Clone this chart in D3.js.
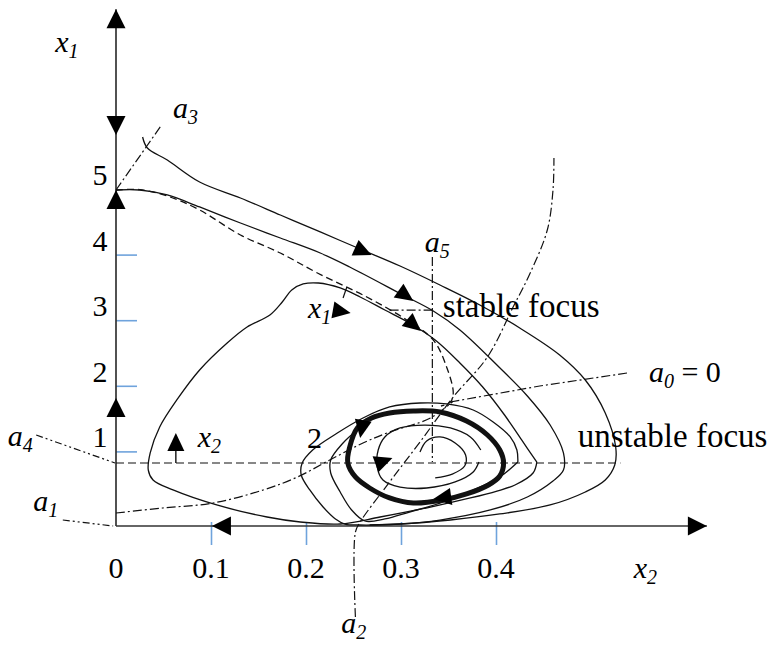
<!DOCTYPE html>
<html>
<head>
<meta charset="utf-8">
<script src="https://cdn.jsdelivr.net/npm/d3@7/dist/d3.min.js"></script>
<style>
  html, body { margin: 0; padding: 0; background: #fff; }
  svg { display: block; }
  text { font-family: "Liberation Serif", "Times New Roman", serif; fill: #000; }
  .sym { font-style: italic; }
</style>
</head>
<body>
<svg id="chart" width="770" height="650"></svg>
<script>
// Phase portrait in the (x2, x1) plane: coordinates are [x2, x1].

const xTickValues = [0.1, 0.2, 0.3, 0.4];
const yTickValues = [1, 2, 3, 4];
const xTickLabels = ["0", "0.1", "0.2", "0.3", "0.4"];
const xTickLabelValues = [0, 0.1, 0.2, 0.3, 0.4];
const yTickLabels = ["1", "2", "3", "4", "5"];
const yTickLabelValues = [1, 2, 3, 4, 5];

// trajectory leaving the a3 branch, running round the outside and spiralling in
const trajOuter = [
  [0.028, 5.793], [0.033, 5.625], [0.054, 5.442], [0.088, 5.107], [0.131, 4.863],
  [0.173, 4.604], [0.215, 4.345], [0.257, 4.085], [0.299, 3.826], [0.341, 3.537],
  [0.383, 3.232], [0.425, 2.881], [0.467, 2.470], [0.494, 2.088], [0.515, 1.585],
  [0.526, 1.067], [0.525, 0.793], [0.515, 0.564], [0.494, 0.381], [0.457, 0.183],
  [0.404, 0.046], [0.352, -0.046], [0.299, -0.107], [0.257, -0.122], [0.241, -0.107],
  [0.231, -0.030], [0.218, 0.152], [0.204, 0.412], [0.195, 0.640], [0.196, 0.823],
  [0.207, 1.021], [0.233, 1.280], [0.260, 1.509], [0.288, 1.677], [0.320, 1.738],
  [0.348, 1.723], [0.376, 1.631], [0.397, 1.448], [0.415, 1.220], [0.422, 1.021],
  [0.423, 0.838]
];
const trajOuterTail = [
  [0.423, 0.838], [0.404, 0.610], [0.376, 0.412], [0.341, 0.213], [0.309, 0.076],
  [0.283, -0.030], [0.262, -0.061], [0.248, 0.107], [0.236, 0.381], [0.226, 0.671],
  [0.226, 0.869], [0.239, 1.128], [0.254, 1.326]
];

// trajectory leaving the point x1 = 5 on the axis
const trajMiddle = [
  [0, 4.985], [0.025, 4.985], [0.054, 4.909], [0.088, 4.726], [0.131, 4.482],
  [0.173, 4.253], [0.215, 4.024], [0.246, 3.811], [0.302, 3.384], [0.334, 3.140],
  [0.362, 2.851], [0.401, 2.317], [0.433, 1.845], [0.457, 1.402], [0.471, 0.976],
  [0.471, 0.716], [0.460, 0.549], [0.433, 0.305], [0.394, 0.107], [0.341, -0.046],
  [0.299, -0.107], [0.267, -0.122]
];

// separatrix (dashed)
const separatrix = [
  [0, 4.985], [0.025, 4.99], [0.057, 4.878], [0.088, 4.680], [0.131, 4.299],
  [0.173, 4.024], [0.212, 3.720], [0.264, 3.354], [0.306, 3.003], [0.334, 2.698],
  [0.348, 2.287], [0.355, 1.890], [0.352, 1.753], [0.342, 1.692]
];

// large closed orbit, starting at its corner on the right
const bigOrbit = [
  [0.443, 0.838], [0.439, 0.671], [0.420, 0.488], [0.401, 0.396], [0.373, 0.290],
  [0.331, 0.152], [0.278, 0.0], [0.236, -0.107], [0.194, -0.076], [0.159, 0.0],
  [0.106, 0.183], [0.060, 0.412], [0.039, 0.564], [0.034, 0.716], [0.036, 0.976],
  [0.046, 1.372], [0.064, 1.784], [0.088, 2.241], [0.117, 2.652], [0.138, 2.896],
  [0.162, 3.079], [0.175, 3.277], [0.185, 3.460], [0.197, 3.552], [0.213, 3.567],
  [0.236, 3.491], [0.257, 3.354], [0.283, 3.155], [0.309, 2.957], [0.336, 2.698],
  [0.362, 2.348], [0.386, 1.982], [0.409, 1.555], [0.427, 1.174], [0.443, 0.838]
];

// limit cycle (thick, closed)
const limitCycle = [
  [0.254, 1.357], [0.269, 1.509], [0.288, 1.585], [0.313, 1.616], [0.341, 1.601],
  [0.369, 1.463], [0.391, 1.250], [0.404, 1.021], [0.408, 0.823], [0.404, 0.625],
  [0.392, 0.488], [0.369, 0.351], [0.344, 0.259], [0.313, 0.213], [0.288, 0.290],
  [0.267, 0.442], [0.252, 0.610], [0.244, 0.823], [0.246, 1.067]
];

// inner spirals leaving the unstable focus
const innerSpiral1 = [
  [0.384, 1.021], [0.373, 1.220], [0.352, 1.357], [0.325, 1.402], [0.299, 1.357],
  [0.283, 1.220], [0.276, 1.021], [0.275, 0.762], [0.281, 0.564], [0.299, 0.457],
  [0.327, 0.442], [0.357, 0.534], [0.376, 0.686], [0.382, 0.838]
];
const innerSpiral2 = [
  [0.320, 0.991], [0.327, 1.159], [0.341, 1.220], [0.357, 1.128], [0.368, 0.945],
  [0.367, 0.777], [0.354, 0.655], [0.336, 0.595]
];

// isoclines and auxiliary curves (dash-dot)
const curveA3 = [[0, 4.985], [0.048, 5.976]];
const curveA5 = [[0.333, 3.963], [0.333, 0.838]];
const focusLeader = [[0.288, 3.155], [0.333, 3.155]];
const curveA2 = [
  [0.252, -1.524], [0.252, -0.229], [0.257, -0.076], [0.288, 0.534], [0.320, 1.143],
  [0.355, 1.829], [0.391, 2.439], [0.418, 3.201], [0.436, 3.720], [0.454, 4.375],
  [0.460, 4.985], [0.461, 5.473]
];
const curveA1 = [
  [0, 0.061], [0.049, 0.137], [0.102, 0.213], [0.155, 0.412], [0.191, 0.610],
  [0.225, 0.869], [0.260, 1.128], [0.288, 1.296], [0.331, 1.509], [0.355, 1.768]
];
const curveA0 = [[0.352, 1.753], [0.446, 1.997], [0.538, 2.195]];
const leaderA4 = [[-0.084, 1.25], [-0.001, 0.823]];
const leaderA1 = [[-0.056, -0.046], [-0.003, -0.137]];
const levelLine = [[0, 0.823], [0.531, 0.823]];

// direction arrows: tip position and heading in degrees (screen, 0 = right)
const axisArrows = [
  { at: [0, 7.74], angle: -90 },
  { at: [0, 5.823], angle: 90 },
  { at: [0, 4.985], angle: -90 },
  { at: [0, 1.814], angle: -90 },
  { at: [0.101, -0.137], angle: 180 },
  { at: [0.622, -0.137], angle: 0 }
];
const flowArrows = [
  { at: [0.269, 3.994], angle: 24 },
  { at: [0.313, 3.293], angle: 35 },
  { at: [0.321, 2.835], angle: 40 },
  { at: [0.247, 3.110], angle: 10 },
  { at: [0.063, 1.280], angle: -90 },
  { at: [0.257, 1.204], angle: 100 },
  { at: [0.291, 0.899], angle: -20 },
  { at: [0.334, 0.274], angle: 172 }
];
const x2ArrowStem = [[0.063, 1.052], [0.063, 0.823]];
const x1ArrowStem = [[0.243, 3.506], [0.239, 3.338]];

const svg = d3.select("#chart");
const x = d3.scaleLinear().domain([0, 0.62]).range([116, 705]);
const y = d3.scaleLinear().domain([0, 5]).range([517, 189]);
const axisY = y(-0.137);

const smooth = d3.line().x(d => x(d[0])).y(d => y(d[1])).curve(d3.curveCatmullRom.alpha(0.5));
const smoothClosed = d3.line().x(d => x(d[0])).y(d => y(d[1])).curve(d3.curveCatmullRomClosed.alpha(0.5));
const straight = d3.line().x(d => x(d[0])).y(d => y(d[1]));

// blue tick marks
const yAxis = svg.append("g").attr("transform", `translate(${x(0)},0)`)
  .call(d3.axisRight(y).tickValues(yTickValues).tickSize(21).tickFormat(""));
const xAxis = svg.append("g").attr("transform", `translate(0,${axisY - 4})`)
  .call(d3.axisBottom(x).tickValues(xTickValues).tickSize(23).tickFormat(""));
[xAxis, yAxis].forEach(g => {
  g.select(".domain").remove();
  g.selectAll(".tick line").attr("stroke", "#6fa3dc").attr("stroke-width", 1.6);
});

// axes
svg.append("line").attr("x1", x(0)).attr("x2", x(0)).attr("y1", axisY).attr("y2", y(7.74))
  .attr("stroke", "#333").attr("stroke-width", 1.7);
svg.append("line").attr("x1", x(0)).attr("x2", x(0.622)).attr("y1", axisY).attr("y2", axisY)
  .attr("stroke", "#333").attr("stroke-width", 1.7);

const thin = { stroke: "#111", width: 1.3 };
function draw(data, gen, opts) {
  return svg.append("path").attr("d", gen(data)).attr("fill", "none")
    .attr("stroke", opts.color || "#111").attr("stroke-width", opts.width || 1.3)
    .attr("stroke-dasharray", opts.dash || null).attr("stroke-linejoin", "round");
}

const dashDot = "9,3,2,3";
const dashDotDot = "7,3,2,3,2,3";
draw(levelLine, straight, { dash: "8,4", width: 1.2 });
draw(curveA3, straight, { dash: dashDot, width: 1.2 });
draw(curveA5, straight, { dash: dashDot, width: 1.2 });
draw(focusLeader, straight, { dash: dashDot, width: 1.2 });
draw(curveA2, smooth, { dash: dashDot, width: 1.2 });
draw(curveA1, smooth, { dash: dashDot, width: 1.2 });
draw(curveA0, straight, { dash: dashDot, width: 1.2 });
draw(leaderA4, straight, { dash: dashDotDot, width: 1.2 });
draw(leaderA1, straight, { dash: dashDotDot, width: 1.2 });

draw(separatrix, smooth, { dash: "7,4", width: 1.3 });
draw(trajOuter, smooth, thin);
draw(trajOuterTail, smooth, thin);
draw(trajMiddle, smooth, thin);
draw(bigOrbit, smooth, thin);
draw(innerSpiral1, smooth, thin);
draw(innerSpiral2, smooth, thin);
draw(limitCycle, smoothClosed, { width: 5 });
draw(x2ArrowStem, straight, { width: 1.4 });
draw(x1ArrowStem, straight, { width: 1.2 });

function arrowHead(a, len, half) {
  svg.append("path")
    .attr("d", `M0,0L${-len},${-half}L${-len},${half}Z`)
    .attr("transform", `translate(${x(a.at[0])},${y(a.at[1])}) rotate(${a.angle})`)
    .attr("fill", "#000");
}
axisArrows.forEach(a => arrowHead(a, 19, 9.5));
flowArrows.forEach(a => arrowHead(a, 18, 8.5));

// tick labels
svg.append("g").selectAll("text").data(yTickLabels).join("text")
  .attr("x", 100).attr("y", (d, i) => y(yTickLabelValues[i]) - 4)
  .attr("text-anchor", "middle").attr("font-size", 30).text(d => d);
svg.append("g").selectAll("text").data(xTickLabels).join("text")
  .attr("x", (d, i) => x(xTickLabelValues[i])).attr("y", 578)
  .attr("text-anchor", "middle").attr("font-size", 30).text(d => d);

// symbol labels with subscripts
function symbol(pos, main, sub, rest, size) {
  const t = svg.append("text").attr("x", x(pos[0])).attr("y", y(pos[1]))
    .attr("font-size", size || 30);
  t.append("tspan").attr("class", "sym").text(main);
  t.append("tspan").attr("class", "sym").attr("font-size", 20).attr("dy", 6).text(sub);
  if (rest) t.append("tspan").attr("dy", -6).text(rest);
}
symbol([-0.064, 7.088], "x", "1");
symbol([0.060, 6.082], "a", "3");
symbol([0.325, 4.040], "a", "5");
symbol([0.561, 2.058], "a", "0", " = 0");
symbol([0.202, 3.034], "x", "1");
symbol([0.086, 1.067], "x", "2");
symbol([-0.114, 1.082], "a", "4");
symbol([-0.087, 0.091], "a", "1");
symbol([0.237, -1.77], "a", "2");
symbol([0.545, -0.930], "x", "2");

function plain(pos, str, size) {
  svg.append("text").attr("x", x(pos[0])).attr("y", y(pos[1]))
    .attr("font-size", size).text(str);
}
plain([0.344, 3.049], "stable focus", 33);
plain([0.486, 1.067], "unstable focus", 33);
plain([0.201, 1.052], "2", 30);
</script>
</body>
</html>
